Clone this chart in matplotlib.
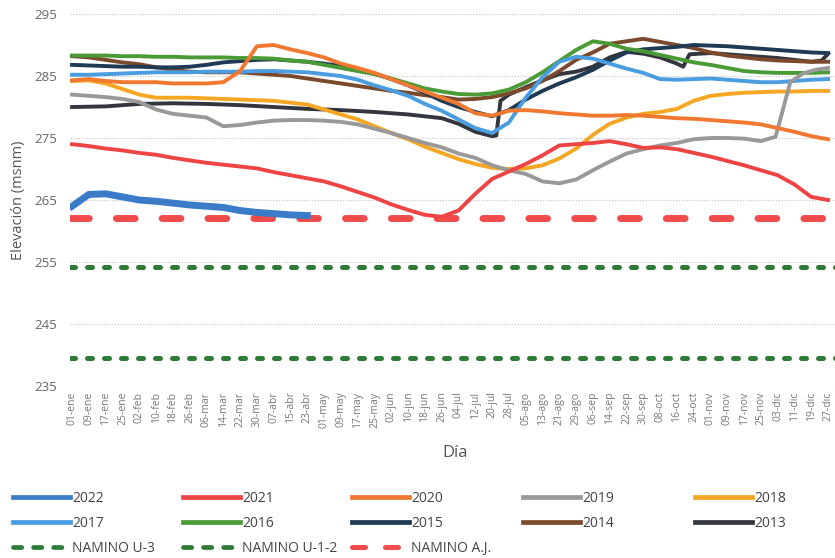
import matplotlib
matplotlib.use("Agg")
import matplotlib.pyplot as plt
from matplotlib.lines import Line2D

plt.rcParams['font.family'] = ['Open Sans', 'DejaVu Sans']

# day of year (0 = 01-ene), one point every 8 days
dias = list(range(0, 361, 8))

etiquetas = ["01-ene", "09-ene", "17-ene", "25-ene", "02-feb", "10-feb", "18-feb", "26-feb",
             "06-mar", "14-mar", "22-mar", "30-mar", "07-abr", "15-abr", "23-abr", "01-may",
             "09-may", "17-may", "25-may", "02-jun", "10-jun", "18-jun", "26-jun", "04-jul",
             "12-jul", "20-jul", "28-jul", "05-ago", "13-ago", "21-ago", "29-ago", "06-sep",
             "14-sep", "22-sep", "30-sep", "08-oct", "16-oct", "24-oct", "01-nov", "09-nov",
             "17-nov", "25-nov", "03-dic", "11-dic", "19-dic", "27-dic"]

elev_2022 = [264.0, 265.9, 266, 265.5, 265, 264.8, 264.5, 264.2, 264, 263.8, 263.3, 263, 262.8,
             262.6, 262.5]
elev_2021 = [274, 273.7, 273.3, 273, 272.6, 272.3, 271.8, 271.4, 271, 270.7, 270.4, 270.1,
             269.5, 269, 268.5, 268, 267.2, 266.3, 265.4, 264.3, 263.4, 262.6, 262.3, 263.3,
             266, 268.4, 269.6, 270.8, 272.2, 273.8, 274, 274.2, 274.5, 274, 273.4, 273.5,
             273.2, 272.6, 272, 271.3, 270.6, 269.8, 269, 267.5, 265.5, 265]
elev_2020 = [284.3, 284.5, 284.2, 284, 284, 284, 283.8, 283.8, 283.8, 284, 285.8, 289.8, 290,
             289.3, 288.7, 288, 287, 286.3, 285.5, 284.5, 283.5, 282.5, 281.5, 280.5, 279,
             278.6, 279.4, 279.5, 279.3, 279, 278.8, 278.6, 278.6, 278.7, 278.6, 278.4, 278.2,
             278.1, 277.9, 277.7, 277.5, 277.2, 276.6, 276, 275.3, 274.8]
dias_2019 = dias[:42] + [335, 342, 348, 354, 360]
elev_2019 = [282, 281.8, 281.6, 281.3, 280.8, 279.6, 278.9, 278.6, 278.3, 276.9, 277.1, 277.5,
             277.8, 277.9, 277.9, 277.8, 277.6, 277.2, 276.5, 275.8, 275, 274.2, 273.5, 272.5,
             271.8, 270.6, 269.8, 269.2, 268, 267.7, 268.3, 269.8, 271.2, 272.5, 273.2, 273.8,
             274.2, 274.8, 275, 275, 274.9, 274.5, 275.2, 284, 285.4, 286, 286.3]
elev_2018 = [284.2, 284.3, 283.8, 282.9, 282, 281.5, 281.5, 281.5, 281.4, 281.3, 281.2, 281.1,
             281, 280.7, 280.4, 279.6, 278.8, 278, 276.9, 275.8, 274.8, 273.6, 272.6, 271.6,
             270.8, 270.2, 270, 270.1, 270.6, 271.7, 273.3, 275.5, 277.3, 278.3, 278.9, 279.2,
             279.7, 281, 281.8, 282.1, 282.3, 282.4, 282.5, 282.5, 282.6, 282.6]
elev_2017 = [285.2, 285.2, 285.3, 285.4, 285.5, 285.6, 285.6, 285.6, 285.7, 285.7, 285.7, 285.8,
             285.8, 285.7, 285.6, 285.3, 285, 284.4, 283.5, 282.7, 281.8, 280.5, 279.4, 278,
             276.6, 275.8, 277.5, 281.5, 284.8, 287.3, 288.1, 287.8, 287, 286.2, 285.5, 284.5,
             284.4, 284.5, 284.6, 284.4, 284.2, 284, 284, 284.2, 284.4, 284.5]
elev_2016 = [288.3, 288.3, 288.3, 288.2, 288.2, 288.1, 288.1, 288, 288, 288, 287.9, 287.9,
             287.8, 287.5, 287.3, 286.8, 286.3, 285.8, 285.3, 284.6, 283.8, 283, 282.5, 282.1,
             282, 282.2, 282.8, 284, 285.6, 287.4, 289.2, 290.6, 290.2, 289.4, 289, 288.4,
             287.8, 287.2, 286.8, 286.3, 285.8, 285.6, 285.5, 285.5, 285.5, 285.6]
elev_2015 = [286.8, 286.7, 286.6, 286.5, 286.5, 286.4, 286.4, 286.5, 286.8, 287.2, 287.4, 287.6,
             287.7, 287.5, 287.3, 287, 286.6, 286.1, 285.4, 284.5, 283.5, 282.3, 281, 280,
             279.2, 278.5, 279.5, 281.2, 282.6, 283.8, 284.8, 286, 287.5, 288.8, 289.3, 289.5,
             289.7, 290, 289.9, 289.8, 289.6, 289.4, 289.2, 289, 288.8, 288.7]
elev_2014 = [288.2, 288, 287.6, 287.2, 286.9, 286.4, 286, 285.7, 285.6, 285.6, 285.6, 285.4,
             285.2, 285, 284.6, 284.2, 283.8, 283.4, 283, 282.6, 282.3, 281.9, 281.6, 281.2,
             281.3, 281.6, 282.2, 283, 284.2, 285.8, 287.6, 288.8, 290.2, 290.6, 291, 290.5,
             290, 289.5, 288.8, 288.3, 288, 287.7, 287.5, 287.4, 287.3, 287.3]
dias_2013 = [0, 16, 32, 48, 64, 80, 96, 112, 128, 144, 160, 176, 184, 192, 200, 202, 204, 208,
             216, 224, 232, 240, 248, 256, 264, 272, 280, 288, 291, 294, 304, 320, 336, 352,
             357, 360]
elev_2013 = [280, 280.1, 280.5, 280.6, 280.5, 280.3, 280, 279.7, 279.5, 279.2, 278.8, 278.2,
             277.3, 276, 275.3, 275.4, 281, 282, 283.2, 284.3, 285.3, 285.7, 286.5, 288, 288.9,
             288.6, 288, 287, 286.5, 288.5, 288.7, 288.3, 287.9, 287.3, 287.5, 288.6]

namino_u3 = 239.6
namino_u12 = 254.2
namino_aj = 262.1

colores = {"2022": "#3a7cc8", "2021": "#ee4444", "2020": "#f07830", "2019": "#999999",
           "2018": "#f5a623", "2017": "#4a9de0", "2016": "#4a9a36", "2015": "#1f3a55",
           "2014": "#7b4a2c", "2013": "#34363d"}
verde = "#2f7a34"
rojo_aj = "#f04c4c"

fig = plt.figure(figsize=(8.35, 5.58), dpi=100)
ax = fig.add_axes([0.0838, 0.3082, 0.9205, 0.6667])

# NAMINO reference levels
ax.axhline(namino_u3, color=verde, lw=3.6, dashes=(1.0, 2.4), dash_capstyle="round")
ax.axhline(namino_u12, color=verde, lw=3.6, dashes=(1.0, 2.4), dash_capstyle="round")
ax.axhline(namino_aj, color=rojo_aj, lw=5, dashes=(2.7, 3.9), dash_capstyle="round")

lw = 2.8
ax.plot(dias_2013, elev_2013, color=colores["2013"], lw=lw)
ax.plot(dias, elev_2014, color=colores["2014"], lw=lw)
ax.plot(dias, elev_2015, color=colores["2015"], lw=lw)
ax.plot(dias, elev_2016, color=colores["2016"], lw=lw)
ax.plot(dias, elev_2017, color=colores["2017"], lw=lw)
ax.plot(dias, elev_2018, color=colores["2018"], lw=lw)
ax.plot(dias_2019, elev_2019, color=colores["2019"], lw=lw)
ax.plot(dias, elev_2020, color=colores["2020"], lw=lw)
ax.plot(dias, elev_2021, color=colores["2021"], lw=lw)
ax.plot(dias[:len(elev_2022)], elev_2022, color=colores["2022"], lw=5)

ax.set_xlim(-1, 365)
ax.set_ylim(235, 295)
ax.set_yticks(range(235, 296, 10))
ax.set_xticks(dias)
ax.set_xticklabels(etiquetas, rotation=90, fontsize=7.5, color="#777777")
ax.tick_params(axis="x", length=0, pad=4)
ax.tick_params(axis="y", length=0, pad=9, labelsize=9.5, labelcolor="#666666")
for s in ax.spines.values():
    s.set_visible(False)
ax.yaxis.grid(True, linestyle=(0, (1, 1.5)), color="#c4c4c4", lw=0.8)
ax.set_axisbelow(True)

ax.set_ylabel("Elevación (msnm)", fontsize=10.5, color="#555555", labelpad=6)
fig.text(0.545, 0.188, "Día", fontsize=12, color="#555555", ha="center", va="center")


def h(nombre):
    return Line2D([], [], color=colores[nombre], lw=3.4)


h_u3 = Line2D([], [], color=verde, lw=3.4, dashes=(1.75, 2.5), dash_capstyle="round")
h_aj = Line2D([], [], color=rojo_aj, lw=3.6, dashes=(2.6, 4.0), dash_capstyle="round")

# legend laid out in 5 columns, row-major like the original
columnas = [
    ([h("2022"), h("2017"), h_u3], ["2022", "2017", "NAMINO U-3"]),
    ([h("2021"), h("2016"), h_u3], ["2021", "2016", "NAMINO U-1-2"]),
    ([h("2020"), h("2015"), h_aj], ["2020", "2015", "NAMINO A.J."]),
    ([h("2019"), h("2014")], ["2019", "2014"]),
    ([h("2018"), h("2013")], ["2018", "2013"]),
]
x_col = [13, 183, 352, 523, 695]
for (hs, labs), xc in zip(columnas, x_col):
    leg = fig.legend(hs, labs, loc="upper left", bbox_to_anchor=(xc / 835, 1 - 491 / 558),
                     frameon=False, borderpad=0, borderaxespad=0, fontsize=10,
                     handlelength=4.1, handletextpad=0.15, labelspacing=0.72)
    for t in leg.get_texts():
        t.set_color("#444444")

fig.savefig("out.png", dpi=100)
